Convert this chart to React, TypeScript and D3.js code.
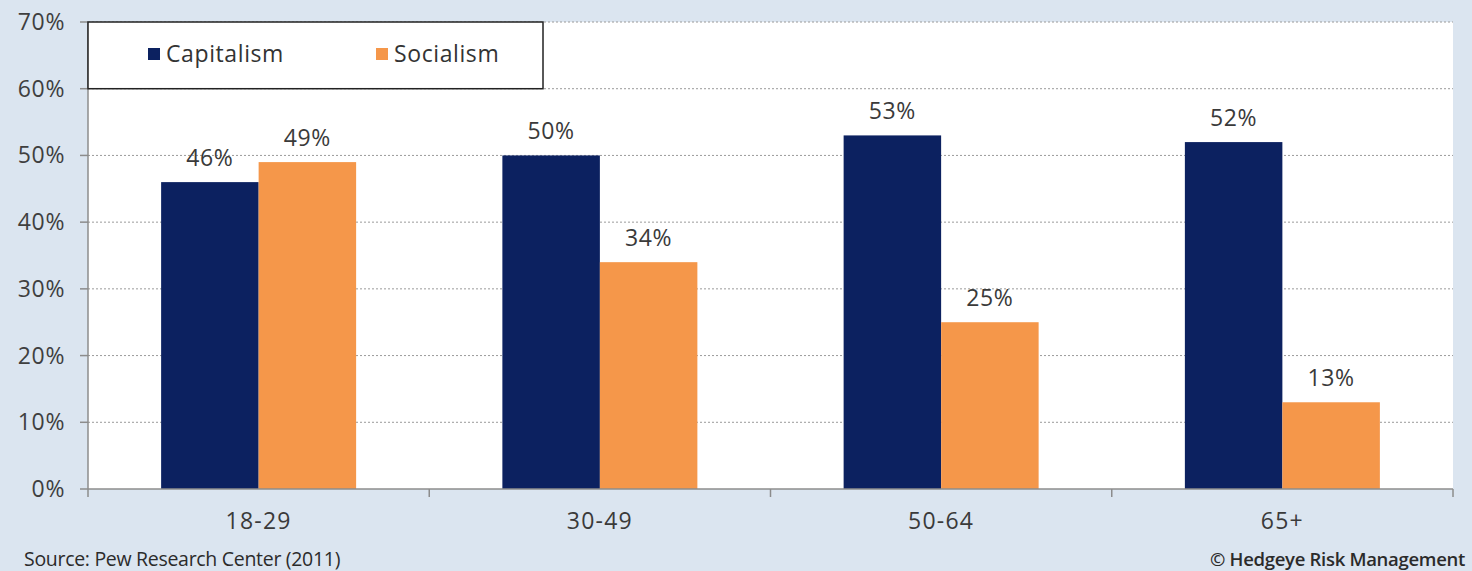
import React from "react";
import * as d3 from "d3";

const categories = ["18-29", "30-49", "50-64", "65+"];
const seriesNames = ["Capitalism", "Socialism"];
const capitalism = [46, 50, 53, 52];
const socialism = [49, 34, 25, 13];
const yTicks = [0, 10, 20, 30, 40, 50, 60, 70];
const colors = ["#0c2160", "#f5974a"];

const W = 1472;
const H = 571;
const margin = { left: 88, right: 19, top: 22, bottom: 82 };
const font = "'Open Sans', Lato, sans-serif";

export default function App() {
  const x = d3
    .scaleBand<string>()
    .domain(categories)
    .range([margin.left, W - margin.right])
    .paddingInner(0)
    .paddingOuter(0);
  const inner = d3
    .scaleBand<string>()
    .domain(seriesNames)
    .range([0, x.bandwidth()])
    .paddingOuter(0.75)
    .paddingInner(0);
  const y = d3.scaleLinear().domain([0, 70]).range([H - margin.bottom, margin.top]);
  const values = [capitalism, socialism];
  const y0 = y(0);
  const boundaries = [...categories.map((c) => x(c) as number), W - margin.right];

  return (
    <svg
      width={W}
      height={H}
      style={{ position: "absolute", left: 0, top: 0, display: "block" }}
      fontFamily={font}
    >
      <rect x={0} y={0} width={W} height={H} fill="#dbe5f0" />
      <rect
        x={margin.left}
        y={margin.top}
        width={W - margin.left - margin.right}
        height={y0 - margin.top}
        fill="#ffffff"
      />
      {/* gridlines */}
      {yTicks.slice(1).map((t) => (
        <line
          key={t}
          x1={margin.left}
          x2={W - margin.right}
          y1={y(t)}
          y2={y(t)}
          stroke="#9a9a9a"
          strokeWidth={1}
          strokeDasharray="2,2"
        />
      ))}
      {/* y axis */}
      <line x1={margin.left} x2={margin.left} y1={margin.top} y2={y0} stroke="#8c8c8c" strokeWidth={1.5} />
      {yTicks.map((t) => (
        <g key={t}>
          <line x1={margin.left - 8} x2={margin.left} y1={y(t)} y2={y(t)} stroke="#8c8c8c" strokeWidth={1.5} />
          <text
            x={margin.left - 23}
            y={y(t)}
            dy="0.35em"
            textAnchor="end"
            fontSize={23}
            letterSpacing={0.6}
            fill="#3f3f3f"
          >
            {t}%
          </text>
        </g>
      ))}
      {/* bars */}
      {categories.map((c, i) =>
        seriesNames.map((s, j) => {
          const v = values[j][i];
          const bx = (x(c) as number) + (inner(s) as number);
          return (
            <g key={c + s}>
              <rect x={bx} y={y(v)} width={inner.bandwidth()} height={y0 - y(v)} fill={colors[j]} />
              <text
                x={bx + inner.bandwidth() / 2}
                y={y(v) - 16}
                textAnchor="middle"
                fontSize={23}
                letterSpacing={0.6}
                fill="#3a3a3a"
              >
                {v}%
              </text>
            </g>
          );
        })
      )}
      {/* x axis */}
      <line x1={margin.left} x2={W - margin.right} y1={y0} y2={y0} stroke="#8c8c8c" strokeWidth={1.5} />
      {boundaries.map((b, i) => (
        <line key={i} x1={b} x2={b} y1={y0} y2={y0 + 8} stroke="#8c8c8c" strokeWidth={1.5} />
      ))}
      {categories.map((c) => (
        <text
          key={c}
          x={(x(c) as number) + x.bandwidth() / 2}
          y={y0 + 40}
          textAnchor="middle"
          fontSize={23}
          letterSpacing={1.2}
          fill="#3a3a3a"
        >
          {c}
        </text>
      ))}
      {/* legend */}
      <rect
        x={margin.left}
        y={margin.top}
        width={455}
        height={y(60) - margin.top}
        fill="#ffffff"
        stroke="#222222"
        strokeWidth={1.5}
      />
      {seriesNames.map((s, j) => {
        const lx = [148, 376][j];
        const ly = 54;
        return (
          <g key={s}>
            <rect x={lx} y={ly - 6} width={12} height={12} fill={colors[j]} />
            <text x={lx + 18} y={ly} dy="0.35em" fontSize={23} letterSpacing={0.6} fill="#333333">
              {s}
            </text>
          </g>
        );
      })}
      {/* footer */}
      <text x={24} y={566} fontSize={19.5} fill="#2b2b2b" letterSpacing={-0.3}>
        Source: Pew Research Center (2011)
      </text>
      <text x={1465} y={566} fontSize={18.5} textAnchor="end" fill="#2b2b2b" fontWeight={600} letterSpacing={-0.3}>
        © Hedgeye Risk Management
      </text>
    </svg>
  );
}
